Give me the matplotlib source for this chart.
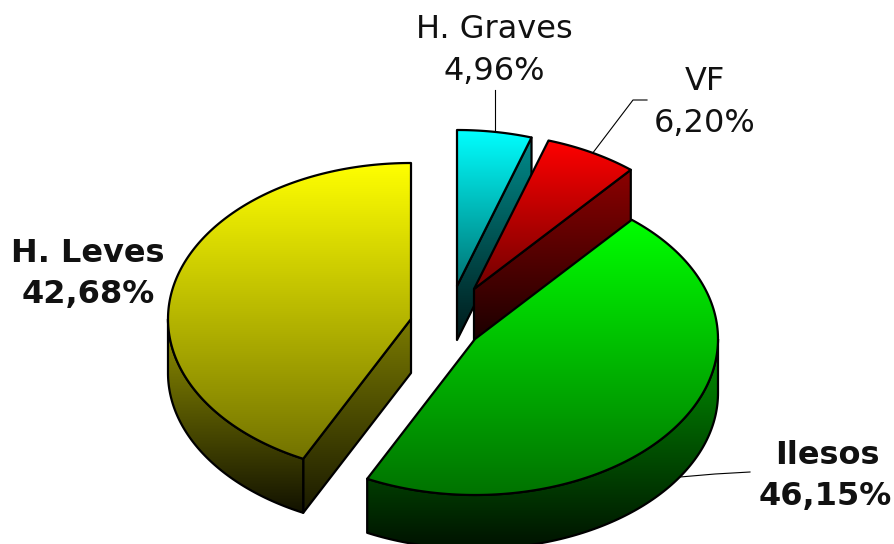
import numpy as np
import matplotlib as mpl
mpl.use('Agg')
import matplotlib.pyplot as plt
from matplotlib.colors import to_rgb
from matplotlib.patches import Polygon

labels = ['H. Graves', 'VF', 'Ilesos', 'H. Leves']
values = [4.96, 6.20, 46.15, 42.68]
colors = ['#00ffff', '#ff0000', '#00ff00', '#ffff00']
value_text = ['4,96%', '6,20%', '46,15%', '42,68%']

# pie geometry in pixels: ellipse radii, wall height, and where each slice's tip lands
RX, RY, DEPTH = 243, 156, 54
tips = [(457, 286), (474, 289), (475, 339), (411, 319)]
draw_order = [0, 1, 3, 2]

fig = plt.figure(figsize=(8.95, 5.44), dpi=100)
ax = fig.add_axes([0, 0, 1, 1])
ax.set_xlim(0, 895)
ax.set_ylim(544, 0)
ax.axis('off')


def shaded(pts, color, top, bottom):
    # vertical gradient clipped to a polygon, black outline on top
    pts = np.array(pts)
    x0, x1 = pts[:, 0].min(), pts[:, 0].max()
    y0, y1 = pts[:, 1].min(), pts[:, 1].max()
    ramp = np.linspace(top, bottom, 256)[:, None, None] * np.array(to_rgb(color))[None, None, :]
    im = ax.imshow(ramp, extent=(x0, x1, y1, y0), aspect='auto', zorder=shaded.z, interpolation='bilinear')
    poly = Polygon(pts, closed=True, fc='none', ec='black', lw=1.6, joinstyle='round', zorder=shaded.z + 0.5)
    ax.add_patch(poly)
    im.set_clip_path(poly)
    shaded.z += 1


shaded.z = 2


def rim(tip, a, dz=0):
    return (tip[0] + RX * np.sin(a), tip[1] - RY * np.cos(a) + dz)


angles = np.cumsum([0] + values) / sum(values) * 2 * np.pi

for i in draw_order:
    a1, a2 = angles[i], angles[i + 1]
    tip = tips[i]
    col = colors[i]
    # radial walls that face the viewer
    if np.sin(a2) > 1e-6:
        p = rim(tip, a2)
        shaded([tip, p, (p[0], p[1] + DEPTH), (tip[0], tip[1] + DEPTH)], col, 0.55, 0.10)
    if np.sin(a1) < -1e-6:
        p = rim(tip, a1)
        shaded([tip, p, (p[0], p[1] + DEPTH), (tip[0], tip[1] + DEPTH)], col, 0.48, 0.10)
    # curved wall, front half of the ellipse only
    b1, b2 = max(a1, np.pi / 2), min(a2, 3 * np.pi / 2)
    if b2 > b1:
        th = np.linspace(b1, b2, 120)
        upper = [rim(tip, t) for t in th]
        lower = [rim(tip, t, DEPTH) for t in th[::-1]]
        shaded(upper + lower, col, 0.58, 0.07)
    # top face
    th = np.linspace(a1, a2, 160)
    shaded([tip] + [rim(tip, t) for t in th], col, 1.0, 0.45)

# leader lines
ax.plot([495, 495], [130, 90], color='black', lw=0.8, zorder=1)
ax.plot([592, 633, 647], [154, 100, 100], color='black', lw=0.8, zorder=1)
ax.plot([680, 715, 750], [477, 474, 472], color='black', lw=0.8, zorder=1)

fs = 23
ax.text(494, 30, labels[0], ha='center', va='center', fontsize=fs, color='#111111')
ax.text(494, 72, value_text[0], ha='center', va='center', fontsize=fs, color='#111111')
ax.text(705, 82, labels[1], ha='center', va='center', fontsize=fs, color='#111111')
ax.text(705, 123, value_text[1], ha='center', va='center', fontsize=fs, color='#111111')
ax.text(827, 456, labels[2], ha='center', va='center', fontsize=fs, fontweight='bold', color='#111111')
ax.text(825, 496, value_text[2], ha='center', va='center', fontsize=fs, fontweight='bold', color='#111111')
ax.text(88, 254, labels[3], ha='center', va='center', fontsize=fs, fontweight='bold', color='#111111')
ax.text(88, 294, value_text[3], ha='center', va='center', fontsize=fs, fontweight='bold', color='#111111')

fig.savefig('out.png', dpi=100)
